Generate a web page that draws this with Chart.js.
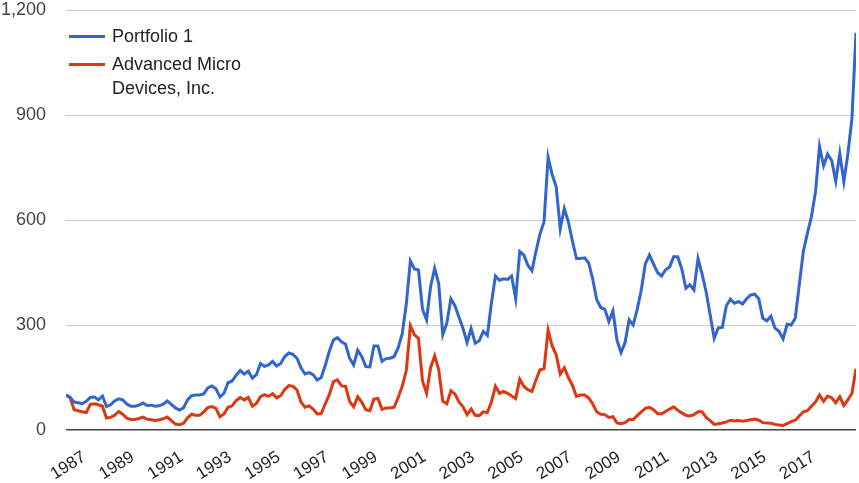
<!DOCTYPE html>
<html>
<head>
<meta charset="utf-8">
<title>Portfolio 1 vs Advanced Micro Devices</title>
<script src="https://cdn.jsdelivr.net/npm/chart.js@4.4.1/dist/chart.umd.min.js"></script>
<style>
  body { margin: 0; background: #fff; }
  #wrap { position: relative; width: 859px; height: 483px; }
  #legend {
    position: absolute; left: 69px; top: 24px;
    font: 18px "Liberation Sans", Arial, sans-serif; color: #222;
  }
  .item { display: flex; align-items: flex-start; margin-bottom: 4px; }
  .swatch { width: 36px; height: 3px; margin-top: 10.5px; margin-right: 7px; flex: none; }
  .text { line-height: 24px; width: 140px; }
</style>
</head>
<body>
<div id="wrap">
  <canvas id="mainChart" width="859" height="483"></canvas>
  <div id="legend"></div>
</div>
<script>
const seriesNames = ["Portfolio 1", "Advanced Micro Devices, Inc."];
const seriesColors = ["#3366cc", "#dc3912"];

// one sample every two months, first one in April 1986
const startYear = 1986.25;
const stepYears = 1 / 6;

const yearTicks = [1987, 1989, 1991, 1993, 1995, 1997, 1999, 2001, 2003, 2005, 2007, 2009, 2011, 2013, 2015, 2017];
const valueTicks = [0, 300, 600, 900, 1200];

/* values, growth of 100 */
const portfolio = [
  100, 93, 80, 78, 75, 82, 93, 94, 86, 97, 67, 72, 83, 89, 86, 74, 68, 68, 71, 77,
  70, 71, 68, 69, 74, 83, 73, 63, 57, 63, 86, 98, 100, 100, 103, 120, 126, 118, 94, 105,
  135, 140, 156, 170, 160, 168, 148, 158, 190, 182, 186, 196, 183, 190, 210, 220, 216, 205, 178, 160,
  164, 158, 143, 150, 185, 225, 257, 264, 252, 245, 205, 186, 228, 210, 181, 180, 240, 240, 196, 204,
  205, 210, 235, 275, 360, 483, 460, 457, 345, 315, 410, 462, 418, 272, 305, 375, 355, 322, 290, 250,
  290, 248, 255, 282, 270, 362, 440, 428, 432, 430, 440, 375, 510, 500, 471, 455, 510, 560, 595, 780,
  730, 695, 575, 633, 595, 540, 490, 490, 492, 478, 432, 372, 350, 345, 310, 340, 257, 221, 250, 315,
  300, 345, 400, 475, 500, 475, 450, 440, 458, 466, 495, 495, 460, 405, 415, 400, 490, 446, 395, 329,
  262, 292, 293, 355, 374, 362, 367, 360, 375, 386, 388, 375, 319, 312, 325, 291, 282, 260, 302, 300,
  319, 415, 510, 562, 610, 680, 810, 755, 788, 770, 711, 790, 710, 789, 890, 1135
];

const amd = [
  100, 93, 58, 55, 52, 50, 73, 75, 72, 68, 34, 36, 42, 53, 45, 34, 30, 30, 33, 37,
  31, 29, 27, 29, 32, 37, 27, 17, 15, 19, 35, 45, 42, 42, 52, 64, 67, 62, 38, 46,
  65, 69, 84, 93, 86, 93, 68, 76, 95, 101, 96, 104, 92, 98, 116, 127, 125, 115, 80, 65,
  69, 60, 46, 47, 75, 101, 138, 143, 126, 125, 82, 66, 95, 80, 58, 55, 88, 90, 59, 63,
  63, 65, 93, 125, 170, 298, 272, 262, 140, 105, 178, 212, 172, 82, 75, 112, 103, 80, 66, 44,
  60, 42, 41, 52, 50, 80, 125, 105, 110, 105, 97, 90, 145, 125, 115, 110, 143, 172, 175, 285,
  240, 215, 160, 178, 150, 128, 96, 100, 100, 92, 75, 52, 45, 44, 36, 38, 20, 18, 21, 30,
  30, 41, 52, 62, 65, 58, 47, 46, 53, 60, 66, 56, 49, 42, 40, 44, 52, 52, 36, 27,
  16, 18, 20, 23, 28, 26, 27, 25, 27, 29, 31, 28, 21, 20, 19, 16, 14, 13, 18, 24,
  28, 40, 52, 55, 68, 80, 100, 82, 97, 92, 78, 95, 70, 86, 105, 175
];

const FONT = "'Liberation Sans', Arial, sans-serif";

const toPoints = arr => arr.map((v, i) => ({ x: startYear + i * stepYears, y: v }));

const datasets = [portfolio, amd].map((arr, k) => ({
  label: seriesNames[k],
  data: toPoints(arr),
  borderColor: seriesColors[k],
  backgroundColor: seriesColors[k],
  borderWidth: 3,
  pointRadius: 0,
  tension: 0
}));

/* legend as html so the long name can wrap */
const legend = document.getElementById("legend");
seriesNames.forEach((name, k) => {
  const row = document.createElement("div");
  row.className = "item";
  row.innerHTML = '<span class="swatch" style="background:' + seriesColors[k] + '"></span><span class="text"></span>';
  row.querySelector(".text").textContent = name;
  legend.appendChild(row);
});

new Chart(document.getElementById("mainChart"), {
  type: "line",
  data: { datasets },
  options: {
    responsive: false,
    animation: false,
    events: [],
    layout: { padding: { top: 10, right: 3, left: 0, bottom: 0 } },
    plugins: {
      legend: { display: false },
      tooltip: { enabled: false }
    },
    scales: {
      x: {
        type: "linear",
        min: startYear,
        max: startYear + (portfolio.length - 1) * stepYears,
        afterBuildTicks: axis => { axis.ticks = yearTicks.map(v => ({ value: v })); },
        afterFit: axis => { axis.height = 53; },
        grid: { display: false },
        border: { display: false },
        ticks: {
          autoSkip: false,
          minRotation: 32,
          maxRotation: 32,
          padding: 9,
          color: "#222",
          font: { family: FONT, size: 17 },
          callback: v => String(v)
        }
      },
      y: {
        min: 0,
        max: 1200,
        afterBuildTicks: axis => { axis.ticks = valueTicks.map(v => ({ value: v })); },
        afterFit: axis => {
          axis.width = 66;
          axis.paddingTop = 0;
          axis.paddingBottom = 0;
        },
        border: { display: false },
        grid: {
          drawTicks: false,
          color: c => c.tick && c.tick.value === 0 ? "#444" : "#cccccc",
          lineWidth: c => c.tick && c.tick.value === 0 ? 1.5 : 1
        },
        ticks: {
          padding: 20,
          color: "#444",
          font: { family: FONT, size: 18 },
          callback: v => v.toLocaleString("en-US")
        }
      }
    }
  }
});
</script>
</body>
</html>
